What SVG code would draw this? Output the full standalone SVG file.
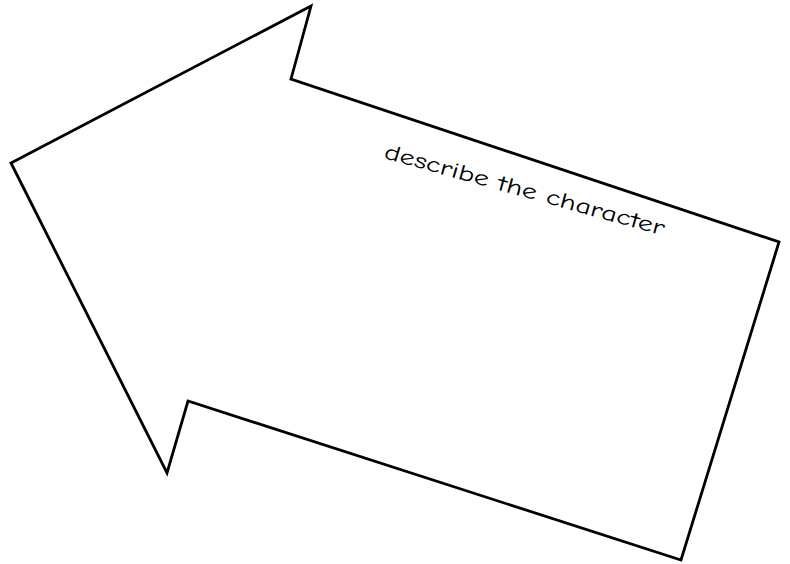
<svg xmlns="http://www.w3.org/2000/svg" width="790" height="564" viewBox="0 0 790 564">
<style>
.arrow{fill:#fff;stroke:#000;stroke-width:2.8;stroke-linejoin:miter}
.lbl{font-family:"Comic Neue","Noto Sans","Liberation Sans",sans-serif;font-size:22px;fill:#000}
</style>
<rect width="790" height="564" fill="#fff"/>
<g id="arrow">
<polygon class="arrow" points="11,163 311,6 291,79 779,242 681,560 188,401 167,473"/>
<text class="lbl" transform="translate(383,158) rotate(15.5)" textLength="290" lengthAdjust="spacingAndGlyphs">describe the character</text>
</g>
</svg>
